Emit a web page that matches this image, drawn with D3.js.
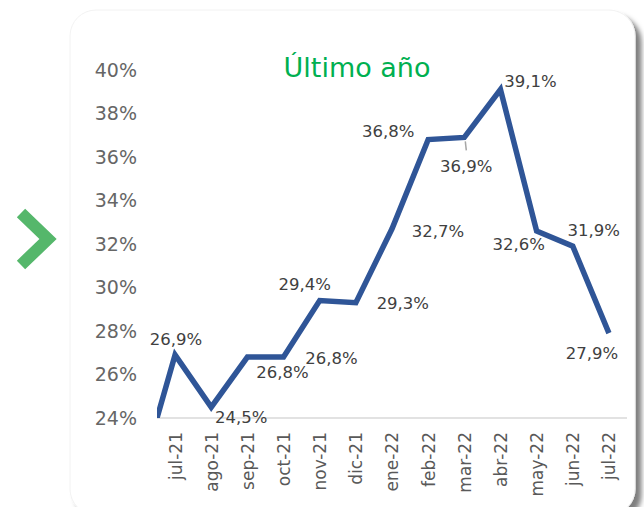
<!DOCTYPE html>
<html>
<head>
<meta charset="utf-8">
<script src="https://cdn.jsdelivr.net/npm/d3@7"></script>
<style>
  html, body { margin: 0; padding: 0; background: #fff; }
  svg { display: block; font-family: 'DejaVu Sans', sans-serif; }
</style>
</head>
<body>
<svg id="chart"></svg>
<script>
// data
const months = ['jul-21', 'ago-21', 'sep-21', 'oct-21', 'nov-21', 'dic-21', 'ene-22', 'feb-22', 'mar-22', 'abr-22', 'may-22', 'jun-22', 'jul-22'];
const values = [26.9, 24.5, 26.8, 26.8, 29.4, 29.3, 32.7, 36.8, 36.9, 39.1, 32.6, 31.9, 27.9];
const priorValue = 21.1; // jun-21, cut off at the left edge of the plot
const yTicks = [24, 26, 28, 30, 32, 34, 36, 38, 40];
const title = 'Último año';

// label nudges (px) relative to each point
const labelOffsets = [[1, -16], [30, 10], [35, 15], [48, 1], [-15, -16], [47, 0], [46, 2], [-40, -9], [2, 29], [30, -9], [-18, 13], [21, -16], [-17, 20]];

const width = 644, height = 507;
const plot = { left: 157, right: 627, top: 70, bottom: 418 };
const fmt = (v) => d3.format('.1f')(v).replace('.', ',') + '%';

const svg = d3.select('#chart').attr('width', width).attr('height', height).attr('viewBox', [0, 0, width, height]);
const defs = svg.append('defs');

const shadow = defs.append('filter').attr('id', 'shadow').attr('x', '-5%').attr('y', '-5%').attr('width', '112%').attr('height', '112%');
shadow.append('feDropShadow').attr('dx', 6).attr('dy', 6).attr('stdDeviation', 2.5).attr('flood-color', '#000').attr('flood-opacity', 0.5);

// card
svg.append('rect')
  .attr('x', 70).attr('y', 10)
  .attr('width', 565).attr('height', 505)
  .attr('rx', 26)
  .attr('fill', '#fff')
  .attr('stroke', '#f2f2f2')
  .attr('filter', 'url(#shadow)');

// chevron
svg.append('path')
  .attr('d', 'M21,213 L48,239 L21,265')
  .attr('fill', 'none')
  .attr('stroke', '#55b76b')
  .attr('stroke-width', 12)
  .attr('stroke-linejoin', 'miter');

const x = d3.scaleLinear([-0.5, months.length - 0.5], [plot.left, plot.right]);
const y = d3.scaleLinear([24, 40], [plot.bottom, plot.top]);

// y axis labels
const yAxis = d3.axisLeft(y).tickValues(yTicks).tickSize(0).tickPadding(0).tickFormat((d) => d + '%');
svg.append('g')
  .attr('transform', 'translate(137,0)')
  .call(yAxis)
  .call((g) => g.select('.domain').remove())
  .call((g) => g.selectAll('.tick text')
    .attr('fill', '#666666')
    .style('font-size', '19px')
    .style('font-family', "'DejaVu Sans', sans-serif"));

// x axis line
svg.append('line')
  .attr('x1', plot.left).attr('x2', plot.right)
  .attr('y1', plot.bottom).attr('y2', plot.bottom)
  .attr('stroke', '#d9d9d9')
  .attr('stroke-width', 1.5);

// x labels
const xAxis = d3.axisBottom(x).tickValues(months.map((_, i) => i)).tickSize(0).tickFormat((i) => months[i]);
svg.append('g')
  .attr('transform', `translate(0,${plot.bottom})`)
  .call(xAxis)
  .call((g) => g.select('.domain').remove())
  .call((g) => g.selectAll('.tick text')
    .attr('transform', 'rotate(-90)')
    .attr('x', -14)
    .attr('y', 0)
    .attr('dy', '0.35em')
    .attr('text-anchor', 'end')
    .attr('fill', '#595959')
    .style('font-size', '17px')
    .style('font-family', "'DejaVu Sans', sans-serif"));

// title
svg.append('text')
  .attr('x', 357).attr('y', 77)
  .attr('text-anchor', 'middle')
  .attr('fill', '#00b050')
  .style('font-size', '27px')
  .text(title);

// line
defs.append('clipPath').attr('id', 'plot_clip')
  .append('rect')
  .attr('x', plot.left).attr('y', 0)
  .attr('width', plot.right - plot.left + 10).attr('height', plot.bottom);

const series = [{ i: -1, v: priorValue }, ...values.map((v, i) => ({ i, v }))];
const line = d3.line().x((d) => x(d.i)).y((d) => y(d.v));
svg.append('g').attr('clip-path', 'url(#plot_clip)')
  .append('path')
  .attr('d', line(series))
  .attr('fill', 'none')
  .attr('stroke', '#2f5597')
  .attr('stroke-width', 5.5)
  .attr('stroke-linejoin', 'miter');

// leader line for mar-22
svg.append('line')
  .attr('x1', x(8) + 1).attr('y1', y(values[8]) + 4)
  .attr('x2', x(8) + 2).attr('y2', y(values[8]) + 13)
  .attr('stroke', '#a6a6a6')
  .attr('stroke-width', 1.5);

// data labels
svg.append('g')
  .selectAll('text')
  .data(values)
  .join('text')
  .attr('x', (d, i) => x(i) + labelOffsets[i][0])
  .attr('y', (d, i) => y(d) + labelOffsets[i][1])
  .attr('dy', '0.36em')
  .attr('text-anchor', 'middle')
  .attr('fill', '#404040')
  .style('font-size', '16.5px')
  .text(fmt);
</script>
</body>
</html>
